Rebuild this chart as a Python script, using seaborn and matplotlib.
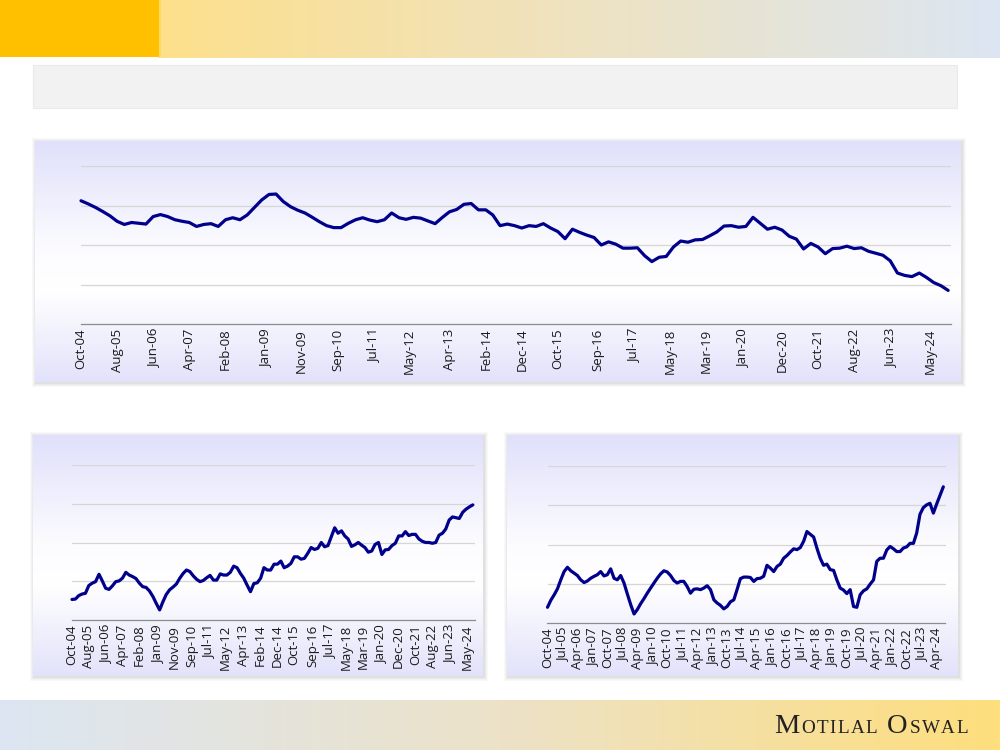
import numpy as np
import pandas as pd
import matplotlib
matplotlib.use("Agg")
import matplotlib.pyplot as plt
from matplotlib.colors import LinearSegmentedColormap
from matplotlib.patches import Rectangle
import seaborn as sns

# ---------------- data ----------------
start_date = "2004-10-01"

top_values = [
    3.12, 3.04, 2.95, 2.85, 2.74, 2.60, 2.52, 2.57, 2.55, 2.53,
    2.72, 2.77, 2.72, 2.64, 2.60, 2.57, 2.47, 2.52, 2.54, 2.47,
    2.64, 2.69, 2.64, 2.76, 2.95, 3.14, 3.28, 3.29, 3.10, 2.97,
    2.88, 2.81, 2.70, 2.59, 2.49, 2.44, 2.44, 2.55, 2.64, 2.69,
    2.63, 2.59, 2.64, 2.81, 2.69, 2.65, 2.70, 2.68, 2.61, 2.54,
    2.70, 2.84, 2.90, 3.03, 3.05, 2.89, 2.89, 2.76, 2.49, 2.53,
    2.49, 2.43, 2.49, 2.47, 2.54, 2.43, 2.34, 2.16, 2.40, 2.32,
    2.25, 2.19, 2.00, 2.08, 2.02, 1.92, 1.92, 1.93, 1.73, 1.58,
    1.69, 1.71, 1.95, 2.10, 2.07, 2.13, 2.14, 2.23, 2.33, 2.48,
    2.49, 2.45, 2.47, 2.70, 2.55, 2.40, 2.45, 2.38, 2.22, 2.15,
    1.90, 2.04, 1.95, 1.78, 1.91, 1.92, 1.97, 1.91, 1.93, 1.84,
    1.79, 1.74, 1.60, 1.29, 1.23, 1.20, 1.29, 1.18, 1.05, 0.97,
    0.85,
]

left_values = [
    0.53, 0.54, 0.63, 0.67, 0.69, 0.89, 0.95, 0.99, 1.18, 1.01,
    0.82, 0.79, 0.88, 0.99, 1.01, 1.08, 1.23, 1.16, 1.12, 1.07,
    0.95, 0.86, 0.84, 0.75, 0.61, 0.43, 0.26, 0.47, 0.66, 0.78,
    0.85, 0.93, 1.08, 1.20, 1.29, 1.25, 1.14, 1.05, 0.99, 1.02,
    1.09, 1.15, 1.03, 1.03, 1.19, 1.16, 1.16, 1.23, 1.39, 1.35,
    1.20, 1.08, 0.90, 0.73, 0.94, 0.96, 1.08, 1.35, 1.29, 1.29,
    1.44, 1.44, 1.52, 1.35, 1.39, 1.46, 1.63, 1.63, 1.57, 1.59,
    1.72, 1.87, 1.82, 1.85, 2.00, 1.89, 1.92, 2.15, 2.38, 2.24,
    2.30, 2.17, 2.09, 1.90, 1.94, 2.00, 1.93, 1.87, 1.75, 1.78,
    1.95, 2.00, 1.69, 1.81, 1.82, 1.92, 1.98, 2.17, 2.17, 2.28,
    2.18, 2.21, 2.21, 2.09, 2.03, 2.00, 2.00, 1.98, 2.00, 2.19,
    2.24, 2.35, 2.58, 2.66, 2.64, 2.62, 2.78, 2.86, 2.92, 2.97,
]

right_values = [
    0.40, 0.58, 0.72, 0.87, 1.10, 1.31, 1.42, 1.33, 1.27, 1.21,
    1.10, 1.03, 1.07, 1.14, 1.19, 1.23, 1.31, 1.20, 1.23, 1.38,
    1.14, 1.10, 1.21, 1.02, 0.74, 0.47, 0.23, 0.34, 0.49, 0.62,
    0.76, 0.89, 1.02, 1.14, 1.25, 1.33, 1.30, 1.21, 1.08, 1.02,
    1.06, 1.06, 0.93, 0.76, 0.86, 0.87, 0.85, 0.89, 0.95, 0.85,
    0.59, 0.51, 0.45, 0.36, 0.42, 0.54, 0.59, 0.85, 1.13, 1.17,
    1.17, 1.16, 1.06, 1.13, 1.14, 1.19, 1.47, 1.40, 1.31, 1.44,
    1.50, 1.65, 1.72, 1.81, 1.89, 1.87, 1.92, 2.08, 2.33, 2.26,
    2.19, 1.91, 1.65, 1.47, 1.50, 1.36, 1.34, 1.10, 0.89, 0.84,
    0.75, 0.85, 0.42, 0.40, 0.72, 0.82, 0.87, 0.99, 1.10, 1.57,
    1.65, 1.65, 1.86, 1.95, 1.89, 1.82, 1.82, 1.91, 1.94, 2.03,
    2.03, 2.29, 2.77, 2.94, 3.01, 3.05, 2.80, 3.03, 3.25, 3.47,
]

top_labels = ["Oct-04", "Aug-05", "Jun-06", "Apr-07", "Feb-08", "Jan-09", "Nov-09",
              "Sep-10", "Jul-11", "May-12", "Apr-13", "Feb-14", "Dec-14", "Oct-15",
              "Sep-16", "Jul-17", "May-18", "Mar-19", "Jan-20", "Dec-20", "Oct-21",
              "Aug-22", "Jun-23", "May-24"]
left_labels = list(top_labels)
right_labels = ["Oct-04", "Jul-05", "Apr-06", "Jan-07", "Oct-07", "Jul-08", "Apr-09",
                "Jan-10", "Oct-10", "Jul-11", "Apr-12", "Jan-13", "Oct-13", "Jul-14",
                "Apr-15", "Jan-16", "Oct-16", "Jul-17", "Apr-18", "Jan-19", "Oct-19",
                "Jul-20", "Apr-21", "Jan-22", "Oct-22", "Jul-23", "Apr-24"]
grid_levels = [0, 1, 2, 3, 4]
brand_words = ["Motilal", "Oswal"]

# ---------------- style ----------------
sns.set_theme(style="white")
plt.rcParams["font.family"] = ["Open Sans", "DejaVu Sans"]

LINE = "#00008C"
LAV = (224, 224, 251)

fig = plt.figure(figsize=(10, 7.5), dpi=100)
fig.patch.set_facecolor("white")

bg = fig.add_axes([0, 0, 1, 1], zorder=0)
bg.axis("off")
bg.set_xlim(0, 1000)
bg.set_ylim(750, 0)


def grad(x0, x1, y0, y1, stops, vertical=False):
    cmap = LinearSegmentedColormap.from_list(
        "g", [(p, tuple(np.array(c) / 255.0)) for p, c in stops])
    a = np.linspace(0, 1, 256)
    arr = a[:, None] if vertical else a[None, :]
    bg.imshow(arr, cmap=cmap, vmin=0, vmax=1, extent=(x0, x1, y1, y0), aspect="auto",
              interpolation="bilinear", zorder=1)


# header
grad(158, 1000, 0, 58, [(0, (253, 224, 140)), (0.45, (240, 226, 188)), (1, (220, 230, 242))])
bg.add_patch(Rectangle((0, 0), 159, 57, fc="#FFC000", ec="none", zorder=2))
bg.add_patch(Rectangle((159, 0), 2, 57, fc="#FFD966", ec="none", zorder=2))

# title box
bg.add_patch(Rectangle((33, 65), 924, 43, fc="#F2F2F2", ec="#EAEAEA", lw=0.8, zorder=2))

# footer
grad(0, 1000, 700, 750, [(0, (220, 230, 242)), (0.5, (236, 226, 200)), (1, (254, 222, 125))])


def panel(x0, y0, x1, y1):
    for r, al in ((4, 0.04), (3, 0.05), (2, 0.06), (1, 0.08)):
        bg.add_patch(Rectangle((x0 - r + 1, y0 - r + 1), (x1 - x0) + 2 * r, (y1 - y0) + 2 * r,
                               fc=(0.45, 0.45, 0.45), ec="none", alpha=al, zorder=0.5))
    grad(x0, x1, y0, y1, [(0, LAV), (0.45, (252, 252, 255)), (0.62, (255, 255, 255)),
                          (1, (226, 226, 251))], vertical=True)


panel(35, 141, 961, 382)
panel(33, 435, 483, 676)
panel(507, 435, 958, 676)

bg.set_xlim(0, 1000)
bg.set_ylim(750, 0)

# footer brand in small caps, laid out letter by letter with tracking
renderer = fig.canvas.get_renderer()
inv = bg.transData.inverted()
x_cur = 774.0
for wi, word in enumerate(brand_words):
    for ci, ch in enumerate(word.upper()):
        fs = 20.5 if ci == 0 else 13.8
        t = bg.text(x_cur, 733, ch, fontsize=fs, family="Liberation Serif",
                    color="#222222", ha="left", va="baseline", zorder=3)
        bb = t.get_window_extent(renderer=renderer)
        x0d = inv.transform((bb.x0, bb.y0))[0]
        x1d = inv.transform((bb.x1, bb.y0))[0]
        x_cur += (x1d - x0d) + 1.6
    x_cur += 8


# ---------------- charts ----------------
def chart(rect, values, labels, xmax):
    ax = fig.add_axes(rect, zorder=2)
    ax.set_facecolor("none")
    dates = pd.date_range(start_date, periods=len(values), freq="2MS")
    df = pd.DataFrame({"date": dates, "value": values})
    sns.lineplot(data=df, x="date", y="value", ax=ax, color=LINE, linewidth=2.3,
                 solid_joinstyle="round", solid_capstyle="round", clip_on=False)
    ax.set_ylim(grid_levels[0], grid_levels[-1])
    ax.set_yticks(grid_levels[1:])
    ax.yaxis.grid(True, color="#D6D6D6", linewidth=0.9)
    ax.xaxis.grid(False)
    ax.tick_params(axis="y", left=False, labelleft=False)
    ticks = pd.to_datetime(labels, format="%b-%y")
    ax.set_xticks(ticks)
    ax.set_xticklabels(labels, rotation=90, fontsize=9.5, color="#1A1A1A")
    ax.tick_params(axis="x", length=0, pad=3.5)
    ax.set_xlim(pd.Timestamp(start_date), pd.Timestamp(xmax))
    for s in ("top", "right", "left"):
        ax.spines[s].set_visible(False)
    ax.spines["bottom"].set_color("#8C8C8C")
    ax.spines["bottom"].set_linewidth(0.9)
    ax.set_xlabel("")
    ax.set_ylabel("")
    return ax


chart([0.081, (750 - 324) / 750, 0.870, 158 / 750], top_values, top_labels, "2024-10-25")
chart([0.072, (750 - 620) / 750, 0.403, 155 / 750], left_values, left_labels, "2024-09-10")
chart([0.5475, (750 - 623) / 750, 0.398, 157 / 750], right_values, right_labels, "2024-09-10")

fig.savefig("out.png", dpi=100)
